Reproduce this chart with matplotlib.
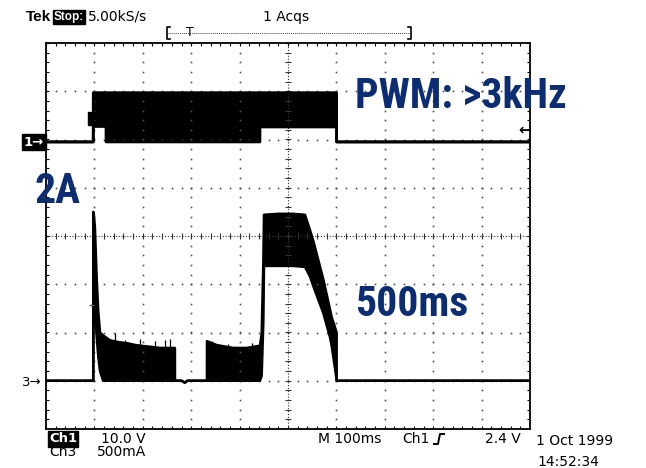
import numpy as np
import matplotlib
matplotlib.use('Agg')
import matplotlib.pyplot as plt
from matplotlib.lines import Line2D
from matplotlib.patches import Rectangle

W, H = 646, 468

# Ch1: gate/PWM voltage (V) vs time (ms), upper and lower envelope of the trace
t1 = [0, 97.6, 97.7, 97.8, 124.0, 124.1, 442.0, 442.1, 600.4, 600.5, 1000]
hi1 = [0, 0, 10.2, 10.2, 10.2, 10.2, 10.2, 10.2, 10.2, 0, 0]
lo1 = [0, 0, 0, 3.2, 3.2, 0, 0, 3.1, 3.1, 0, 0]

# Ch3: motor current (A) vs time (ms), upper and lower envelope
t3 = [0, 97.6, 97.7, 98.5, 101.0, 104.8, 108.0, 111.6, 118.0, 132.0, 150.0, 166.7,
      185.0, 201.0, 220.0, 235.5, 250.0, 266.4, 266.5, 280.0, 287.0, 292.0, 332.5,
      332.6, 352.6, 387.0, 414.6, 438.6, 442.0, 445.6, 449.0, 450.4, 480.0, 510.0,
      535.1, 545.5, 552.3, 573.0, 586.8, 590.3, 600.5, 600.6, 1000]
hi3 = [0, 0, 1.75, 1.74, 1.60, 1.05, 0.72, 0.50, 0.47, 0.42, 0.40, 0.39,
       0.37, 0.36, 0.35, 0.34, 0.34, 0.34, 0, 0, -0.02, 0, 0,
       0.41, 0.37, 0.34, 0.34, 0.36, 0.36, 0.49, 1.22, 1.72, 1.73, 1.73,
       1.72, 1.56, 1.45, 1.05, 0.74, 0.66, 0.50, 0, 0]
lo3 = [0, 0, 0, 1.55, 0.77, 0.45, 0.25, 0.10, 0, 0, 0, 0,
       0, 0, 0, 0, 0, 0, 0, 0, -0.02, 0, 0,
       0, 0, 0, 0, 0, 0, 0.05, 0.60, 1.19, 1.19, 1.19,
       1.18, 1.08, 0.98, 0.70, 0.45, 0.36, 0.01, 0, 0]
# short current spikes above the ripple envelope
spike_t3 = [121.9, 142.6, 163.2, 194.2, 225.2, 245.9, 256.2, 342.4, 376.7, 425.0]
spike_a3 = [0.46, 0.49, 0.42, 0.43, 0.41, 0.42, 0.43, 0.41, 0.38, 0.39]

ch1_gnd, ch1_scale = 1.95, 10.0    # div, V/div
ch3_gnd, ch3_scale = -3.0, 0.5     # div, A/div
trig_level = 2.4

navy = '#0c2c74'
small = dict(family=['DejaVu Sans'], fontsize=10, color='black')
big = dict(family=['Roboto Condensed', 'Liberation Sans'], fontweight='bold',
           fontsize=30, color=navy)


def fx(x):
    return x / W


def fy(y):
    return 1 - y / H


fig = plt.figure(figsize=(W / 100, H / 100), dpi=100)
fig.patch.set_facecolor('white')
ax = fig.add_axes([46 / W, 1 - 429 / H, 484 / W, 386 / H])
ax.set_xlim(0, 1000)
ax.set_ylim(-4, 4)
ax.set_xticks([])
ax.set_yticks([])
for s in ax.spines.values():
    s.set_linewidth(1.3)

# graticule
minor_x = np.arange(0, 1000.1, 20)
minor_y = np.arange(-4, 4.01, 0.2)
dot = dict(ls='none', marker='s', ms=1.2, mfc='#505050', mec='none')
for gx in range(100, 1000, 100):
    if gx != 500:
        ax.plot(np.full_like(minor_y, gx), minor_y, **dot)
for gy in [-3, -2, -1, 1, 2, 3]:
    ax.plot(minor_x, np.full_like(minor_x, gy), **dot)
ax.axvline(500, color='#333333', lw=0.8, ls=(0, (1, 1.6)))
ax.axhline(0, color='#333333', lw=0.8, ls=(0, (1, 1.6)))
ax.vlines(minor_x, -0.07, 0.07, color='#333333', lw=0.8)
ax.hlines(minor_y, 493, 507, color='#333333', lw=0.8)
ax.vlines(minor_x, 3.93, 4, color='black', lw=0.8)
ax.vlines(minor_x, -4, -3.93, color='black', lw=0.8)
ax.hlines(minor_y, 0, 7, color='black', lw=0.8)
ax.hlines(minor_y, 993, 1000, color='black', lw=0.8)

# Ch1 trace
y1_hi = ch1_gnd + np.array(hi1) / ch1_scale
y1_lo = ch1_gnd + np.array(lo1) / ch1_scale
ax.fill_between(t1, y1_lo, y1_hi, color='black', lw=0)
ax.plot(t1, y1_hi, color='black', lw=2)
ax.plot(t1, y1_lo, color='black', lw=2)

# Ch3 trace
y3_hi = ch3_gnd + np.array(hi3) / ch3_scale
y3_lo = ch3_gnd + np.array(lo3) / ch3_scale
ax.fill_between(t3, y3_lo, y3_hi, color='black', lw=0)
ax.plot(t3, y3_hi, color='black', lw=1.8)
ax.plot(t3, y3_lo, color='black', lw=1.8)
ax.vlines(spike_t3, ch3_gnd, ch3_gnd + np.array(spike_a3) / ch3_scale, color='black', lw=0.9)
ax.hlines(ch3_gnd + 0.78 / ch3_scale, 88, 100, color='#555555', lw=1)

# trigger marker and trigger level arrow
ax.add_patch(Rectangle((86, ch1_gnd + 0.36), 11.5, 0.27, facecolor='black', edgecolor='black'))
ax.text(989, ch1_gnd + trig_level / ch1_scale, '\u2190', ha='center', va='center',
        fontsize=11, fontweight='bold', family='DejaVu Sans')

# channel ground markers
fig.text(fx(24), fy(142), '1\u2192', ha='left', va='center', color='white', fontsize=9.5,
         family='DejaVu Sans', fontweight='bold',
         bbox=dict(boxstyle='square,pad=0.12', facecolor='black', edgecolor='black'))
fig.text(fx(22), fy(382), '3\u2192', ha='left', va='center', fontsize=9.5,
         family='DejaVu Sans')

# header
fig.text(fx(26), fy(17), 'Tek', ha='left', va='center', fontweight='bold',
         family=['Liberation Sans'], fontsize=11)
fig.text(fx(54), fy(17), 'Stop:', ha='left', va='center', fontweight='bold',
         family=['Liberation Sans'], fontsize=8.5, color='white',
         bbox=dict(boxstyle='square,pad=0.08', facecolor='black', edgecolor='black'))
fig.text(fx(88), fy(17), '5.00kS/s', ha='left', va='center', **small)
fig.text(fx(263), fy(17), '1 Acqs', ha='left', va='center', **small)
fig.add_artist(Line2D([fx(168), fx(410)], [fy(33), fy(33)], color='#444444', lw=0.7,
                      ls=(0, (1, 1)), transform=fig.transFigure))
for bx, d in [(167, 3), (411, -3)]:
    fig.add_artist(Line2D([fx(bx + d), fx(bx), fx(bx), fx(bx + d)],
                          [fy(27), fy(27), fy(39), fy(39)], color='black', lw=1.2,
                          transform=fig.transFigure))
fig.text(fx(190), fy(32), 'T', ha='center', va='center', fontsize=9,
         family='DejaVu Sans')

# footer
fig.text(fx(49), fy(439), 'Ch1', ha='left', va='center', fontweight='bold',
         family=['DejaVu Sans'], fontsize=9.5, color='white',
         bbox=dict(boxstyle='square,pad=0.1', facecolor='black', edgecolor='black'))
fig.text(fx(101), fy(439), '10.0 V', ha='left', va='center', **small)
fig.text(fx(49), fy(452), 'Ch3', ha='left', va='center', **small)
fig.text(fx(97), fy(452), '500mA', ha='left', va='center', **small)
fig.text(fx(318), fy(439), 'M 100ms', ha='left', va='center', **small)
fig.text(fx(402), fy(439), 'Ch1', ha='left', va='center', **small)
fig.add_artist(Line2D([fx(434), fx(438), fx(440), fx(444)],
                      [fy(444), fy(444), fy(434), fy(434)], color='black', lw=1.4,
                      transform=fig.transFigure))
fig.text(fx(521), fy(439), '2.4 V', ha='right', va='center', **small)
fig.text(fx(536), fy(441), '1 Oct 1999', ha='left', va='center', **small)
fig.text(fx(537), fy(462), '14:52:34', ha='left', va='center', **small)

# annotations
fig.text(fx(355), fy(108), 'PWM: >3kHz', ha='left', va='baseline', **big)
fig.text(fx(35), fy(203), '2A', ha='left', va='baseline', **big)
fig.text(fx(355), fy(316), '500ms', ha='left', va='baseline', **big)

fig.savefig('out.png', dpi=100, facecolor='white')
